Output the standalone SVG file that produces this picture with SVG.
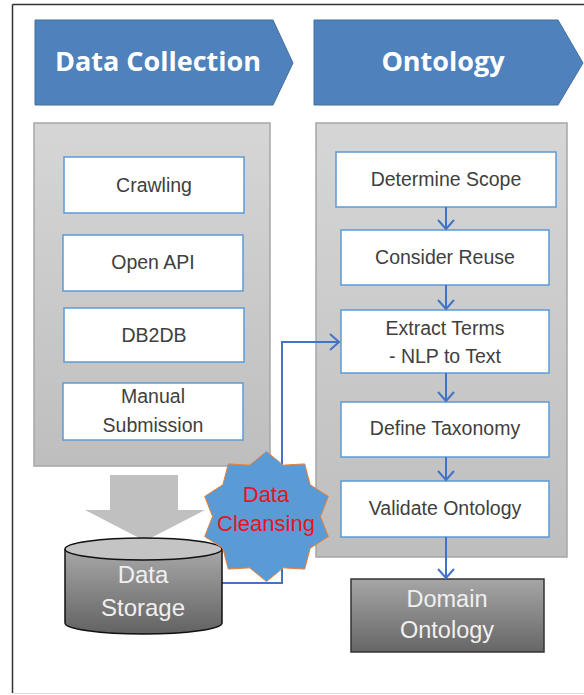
<svg xmlns="http://www.w3.org/2000/svg" width="584" height="695" viewBox="0 0 584 695">
<defs>
<linearGradient id="panelGrad" x1="0" y1="0" x2="0" y2="1"><stop offset="0" stop-color="#d6d6d6"/><stop offset="1" stop-color="#bebebe"/></linearGradient>
<linearGradient id="darkGrad" x1="0" y1="0" x2="0" y2="1"><stop offset="0" stop-color="#a6a6a6"/><stop offset="1" stop-color="#666666"/></linearGradient>
<linearGradient id="cylGrad" x1="0" y1="0" x2="0" y2="1"><stop offset="0" stop-color="#a8a8a8"/><stop offset="1" stop-color="#626262"/></linearGradient>
<marker id="arr" viewBox="-1 -1 12 18" refX="9" refY="8" markerWidth="12" markerHeight="18" markerUnits="userSpaceOnUse" orient="auto">
<path d="M0,0 L9,8 L0,16" fill="none" stroke="#4472c4" stroke-width="2"/>
</marker>
</defs>
<style>
.chev{fill:#4f81bd;stroke:#41719c;stroke-width:1}
.htxt{font-family:"Open Sans","Liberation Sans",sans-serif;font-weight:700;font-size:27px;fill:#ffffff;text-anchor:middle}
.panel{fill:url(#panelGrad);stroke:#a6a6a6;stroke-width:1.5}
.box{fill:#ffffff;stroke:#5b9bd5;stroke-width:1.5}
.btxt{font-family:"Liberation Sans",Arial,sans-serif;font-size:19.5px;fill:#404040;text-anchor:middle}
.wtxt{font-family:"Liberation Sans",Arial,sans-serif;font-size:23.5px;fill:#f0f0f0;text-anchor:middle}
.rtxt{font-family:"Liberation Sans",Arial,sans-serif;font-size:22px;fill:#e8141c;text-anchor:middle}
.conn{fill:none;stroke:#4472c4;stroke-width:2}
</style>
<rect width="584" height="695" fill="#ffffff"/>
<g id="frame">
<line x1="12.5" y1="4.5" x2="584" y2="4.5" stroke="#333333" stroke-width="1.5"/>
<line x1="12.5" y1="4.5" x2="12.5" y2="693" stroke="#333333" stroke-width="1.5"/>
<line x1="12.5" y1="693.5" x2="584" y2="693.5" stroke="#dddddd" stroke-width="1"/>
</g>
<g id="hdr-collection">
<polygon class="chev" points="35,20 273,20 293,63 273,105 35,105"/>
<text class="htxt" x="158" y="71">Data Collection</text>
</g>
<g id="hdr-ontology">
<polygon class="chev" points="314,20 558,20 583,63 558,105 314,105"/>
<text class="htxt" x="443" y="71">Ontology</text>
</g>
<g id="panel-collection"><rect class="panel" x="34" y="123" width="236" height="343"/></g>
<g id="panel-ontology"><rect class="panel" x="316" y="123" width="251" height="434"/></g>
<g id="crawling"><rect class="box" x="64" y="157" width="180" height="56"/><text class="btxt" x="154" y="192">Crawling</text></g>
<g id="openapi"><rect class="box" x="63" y="235" width="180" height="56"/><text class="btxt" x="153" y="269">Open API</text></g>
<g id="db2db"><rect class="box" x="64" y="308" width="180" height="54"/><text class="btxt" x="154" y="342">DB2DB</text></g>
<g id="manual"><rect class="box" x="63" y="383" width="180" height="57"/><text class="btxt" x="153" y="403">Manual</text><text class="btxt" x="153" y="432">Submission</text></g>
<g id="scope"><rect class="box" x="336" y="152" width="220" height="55"/><text class="btxt" x="446" y="186">Determine Scope</text></g>
<g id="reuse"><rect class="box" x="341" y="230" width="208" height="55"/><text class="btxt" x="445" y="264">Consider Reuse</text></g>
<g id="extract"><rect class="box" x="341" y="310" width="208" height="63"/><text class="btxt" x="445" y="335">Extract Terms</text><text class="btxt" x="445" y="363">- NLP to Text</text></g>
<g id="taxonomy"><rect class="box" x="341" y="402" width="208" height="55"/><text class="btxt" x="445" y="435">Define Taxonomy</text></g>
<g id="validate"><rect class="box" x="341" y="481" width="208" height="56"/><text class="btxt" x="445" y="515">Validate Ontology</text></g>
<g id="domain"><rect x="351" y="579" width="193" height="73" fill="url(#darkGrad)" stroke="#333333" stroke-width="1.5"/><text class="wtxt" x="447" y="607">Domain</text><text class="wtxt" x="447" y="638">Ontology</text></g>
<g id="bigarrow"><polygon points="110,475 178,475 178,510 205,510 145,541 85,510 110,510" fill="#c0c0c0"/></g>
<g id="connectors">
<line class="conn" x1="446" y1="207" x2="446" y2="229" marker-end="url(#arr)"/>
<line class="conn" x1="446" y1="285" x2="446" y2="309" marker-end="url(#arr)"/>
<line class="conn" x1="446" y1="373" x2="446" y2="401" marker-end="url(#arr)"/>
<line class="conn" x1="446" y1="457" x2="446" y2="480" marker-end="url(#arr)"/>
<line class="conn" x1="446" y1="537" x2="446" y2="578" marker-end="url(#arr)"/>
<path class="conn" d="M222,583 H282 V342 H339" marker-end="url(#arr)"/>
</g>
<g id="storage">
<path d="M65,549 V623 A78.5,11 0 0 0 222,623 V549" fill="url(#cylGrad)" stroke="#111111" stroke-width="1.5"/>
<ellipse cx="143.5" cy="549" rx="78.5" ry="11" fill="#c4c4c4" stroke="#111111" stroke-width="1.5"/>
<text class="wtxt" x="143" y="583" style="font-size:24px">Data</text>
<text class="wtxt" x="143" y="616" style="font-size:24px">Storage</text>
</g>
<g id="cleansing">
<polygon points="266.5,451.5 283.19,465.14 304.71,463.91 310.19,484.76 328.32,496.41 320.5,516.5 328.32,536.59 310.19,548.26 304.71,569.09 283.19,567.86 266.5,581.5 249.81,567.86 228.29,569.09 222.81,548.26 204.68,536.59 212.5,516.5 204.68,496.41 222.81,484.76 228.29,463.91 249.81,465.14" fill="#5b9bd5" stroke="#ed7d31" stroke-width="1"/>
<text class="rtxt" x="266" y="502">Data</text>
<text class="rtxt" x="266" y="531">Cleansing</text>
</g>
</svg>
